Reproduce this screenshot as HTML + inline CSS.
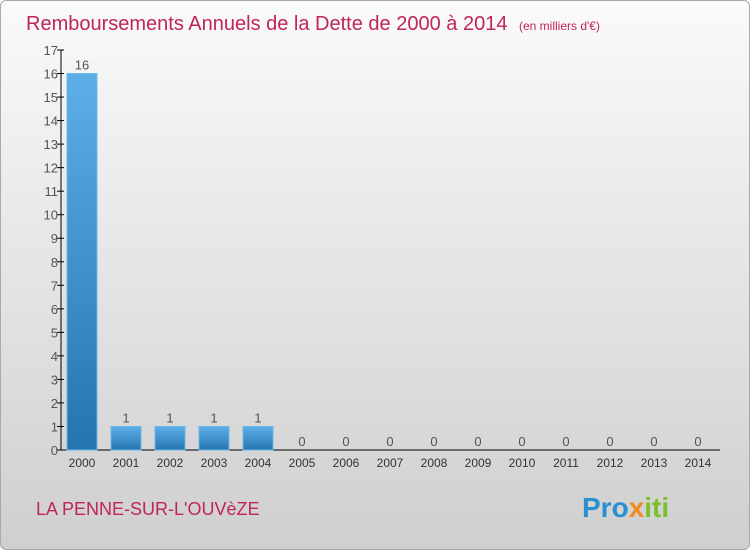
<!DOCTYPE html>
<html><head><meta charset="utf-8"><style>
body{margin:0;width:750px;height:550px;overflow:hidden;font-family:"Liberation Sans",sans-serif}
#wrap{position:absolute;left:0;top:0;width:748px;height:548px;border:1px solid #aaa;border-radius:6px;background:linear-gradient(#fafafa,#cfcfcf)}
</style></head><body>
<div id="wrap">
<svg width="750" height="550" style="position:absolute;left:-1px;top:-1px">
<defs><linearGradient id="bg" x1="0" y1="0" x2="0" y2="1"><stop offset="0" stop-color="#5dafe8"/><stop offset="1" stop-color="#2574b0"/></linearGradient></defs>
<text x="26" y="30" font-size="20" fill="#c0245c">Remboursements Annuels de la Dette de 2000 à 2014 <tspan font-size="12" dx="6">(en milliers d'€)</tspan></text>
<g id="plot"></g>
<text x="36" y="515" font-size="18" fill="#c0245c">LA PENNE-SUR-L'OUVèZE</text>
<text x="582" y="517" font-size="28" font-weight="bold" fill="#2a8fd0">Pro<tspan fill="#f08a1c">x</tspan><tspan fill="#7bbf2a">iti</tspan></text>
</svg></div>
<script>
const years=["2000","2001","2002","2003","2004","2005","2006","2007","2008","2009","2010","2011","2012","2013","2014"];
const values=[16,1,1,1,1,0,0,0,0,0,0,0,0,0,0];
const yTicks=[0,1,2,3,4,5,6,7,8,9,10,11,12,13,14,15,16,17];
const NS="http://www.w3.org/2000/svg",g=document.getElementById('plot');
const y0=450,unit=(450-50)/17,x0=61,step=44,bw=30;
const Y=v=>y0-v*unit, X=i=>x0+6+i*step;
function mk(t,a,txt){const e=document.createElementNS(NS,t);for(const k in a)e.setAttribute(k,a[k]);if(txt!==undefined)e.textContent=txt;g.appendChild(e);return e;}
const ax=mk('line',{x1:x0,y1:Y(17),x2:x0,y2:y0,stroke:'#000'});


const bx=mk('line',{x1:x0,y1:y0,x2:720,y2:y0,stroke:'#000'});


yTicks.forEach(t=>{
 const l=mk('line',{x1:x0-4,y1:Y(t),x2:x0+3,y2:Y(t),stroke:'#000'});
 
 
 const s=mk('text',{x:x0-3,y:Y(t)+5,'font-size':13,fill:'#555','text-anchor':'end'},t);
 
 
});
years.forEach((yr,i)=>{
 const v=values[i],x=X(i);
 if(v>0){const r=mk('rect',{x:x,y:Y(v),width:bw,height:y0-Y(v),fill:'url(#bg)',stroke:'#6bb8ec','stroke-width':1});
 
 }
 const vl=mk('text',{x:x+bw/2,y:Y(v)-4,'font-size':13,fill:'#555','text-anchor':'middle'},v);
 
 
 const xl=mk('text',{x:x+bw/2,y:467,'font-size':12,fill:'#333','text-anchor':'middle'},yr);
 
 
});
</script>
</body></html>
